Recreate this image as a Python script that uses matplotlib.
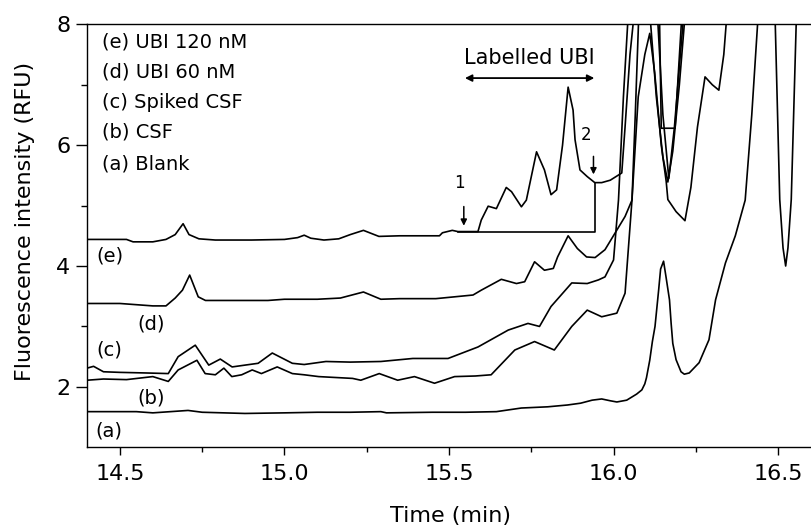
import matplotlib
matplotlib.use("Agg")
import matplotlib.pyplot as plt
from matplotlib.ticker import MultipleLocator

plt.rcParams['font.family'] = ['DejaVu Sans']

# ---- data (time in min, fluorescence in RFU) ----
time_a = [14.40, 14.55, 14.60, 14.707, 14.75, 14.88, 15.00, 15.10, 15.20, 15.293, 15.31,
          15.45, 15.55, 15.644, 15.72, 15.80, 15.86, 15.90, 15.935, 15.964, 15.99, 16.01,
          16.04, 16.07, 16.086, 16.095, 16.10, 16.11, 16.118, 16.126, 16.137, 16.143, 16.152,
          16.16, 16.17, 16.175, 16.18, 16.19, 16.205, 16.215, 16.23, 16.26, 16.29, 16.31,
          16.34, 16.37, 16.40, 16.42, 16.44, 16.46, 16.49, 16.505, 16.515, 16.523, 16.53,
          16.54, 16.556, 16.58, 16.60]
rfu_a = [1.59, 1.59, 1.57, 1.61, 1.58, 1.56, 1.57, 1.58, 1.58, 1.59, 1.57,
         1.58, 1.58, 1.59, 1.65, 1.67, 1.70, 1.73, 1.78, 1.80, 1.77, 1.75,
         1.78, 1.88, 1.95, 2.05, 2.15, 2.44, 2.75, 3.00, 3.60, 3.95, 4.08,
         3.80, 3.44, 3.05, 2.72, 2.45, 2.25, 2.21, 2.23, 2.40, 2.78, 3.44,
         4.05, 4.50, 5.09, 6.50, 8.20, 9.00, 8.30, 5.10, 4.30, 4.00, 4.30,
         5.10, 8.20, 9.00, 9.00]

time_b = [14.40, 14.45, 14.52, 14.60, 14.647, 14.677, 14.734, 14.759, 14.79, 14.816, 14.84,
          14.87, 14.902, 14.93, 14.978, 15.024, 15.06, 15.104, 15.207, 15.232, 15.288, 15.344,
          15.395, 15.456, 15.517, 15.58, 15.628, 15.70, 15.76, 15.82, 15.873, 15.92, 15.964,
          16.01, 16.035, 16.056, 16.075, 16.095, 16.11, 16.125, 16.145, 16.16, 16.165, 16.19,
          16.217, 16.235, 16.255, 16.278, 16.30, 16.32, 16.335, 16.345, 16.36, 16.60]
rfu_b = [2.11, 2.13, 2.12, 2.17, 2.09, 2.28, 2.44, 2.22, 2.20, 2.31, 2.17,
         2.20, 2.28, 2.22, 2.33, 2.22, 2.20, 2.17, 2.14, 2.11, 2.22, 2.11,
         2.17, 2.06, 2.17, 2.18, 2.20, 2.61, 2.75, 2.61, 3.00, 3.27, 3.16,
         3.22, 3.55, 5.09, 6.80, 7.50, 7.85, 7.20, 6.00, 5.40, 5.10, 4.90,
         4.75, 5.30, 6.30, 7.13, 7.00, 6.91, 7.50, 8.20, 9.00, 9.00]

time_c = [14.40, 14.42, 14.45, 14.50, 14.58, 14.647, 14.677, 14.729, 14.77, 14.805, 14.841,
          14.88, 14.92, 14.963, 15.024, 15.06, 15.126, 15.20, 15.293, 15.39, 15.497, 15.588,
          15.68, 15.74, 15.775, 15.81, 15.873, 15.92, 15.954, 15.974, 16.00, 16.015, 16.03,
          16.045, 16.06, 16.10, 16.11, 16.13, 16.15, 16.165, 16.18, 16.20, 16.215, 16.226,
          16.24, 16.60]
rfu_c = [2.31, 2.34, 2.25, 2.24, 2.23, 2.22, 2.50, 2.69, 2.36, 2.46, 2.33,
         2.36, 2.39, 2.56, 2.39, 2.37, 2.42, 2.41, 2.42, 2.47, 2.47, 2.66,
         2.94, 3.05, 3.00, 3.33, 3.72, 3.71, 3.77, 3.82, 4.10, 5.09, 6.80,
         8.20, 9.00, 9.00, 8.20, 6.80, 5.80, 5.39, 5.90, 7.00, 8.00, 8.60,
         9.00, 9.00]

time_d = [14.40, 14.50, 14.60, 14.64, 14.668, 14.69, 14.712, 14.738, 14.76, 14.85, 14.95,
          15.00, 15.10, 15.17, 15.24, 15.293, 15.35, 15.46, 15.573, 15.598, 15.659, 15.705,
          15.73, 15.76, 15.79, 15.817, 15.83, 15.862, 15.89, 15.918, 15.944, 15.974, 16.004,
          16.035, 16.056, 16.066, 16.077, 16.09, 16.12, 16.135, 16.15, 16.168, 16.185, 16.20,
          16.22, 16.23, 16.60]
rfu_d = [3.38, 3.38, 3.34, 3.34, 3.47, 3.60, 3.85, 3.49, 3.43, 3.43, 3.43,
         3.45, 3.45, 3.47, 3.57, 3.45, 3.46, 3.46, 3.52, 3.60, 3.78, 3.71,
         3.74, 4.07, 3.93, 3.96, 4.15, 4.50, 4.29, 4.15, 4.14, 4.27, 4.54,
         4.82, 5.09, 6.50, 8.20, 9.00, 9.00, 8.00, 6.50, 5.45, 6.30, 7.30,
         8.60, 9.00, 9.00]

time_e = [14.40, 14.52, 14.54, 14.60, 14.64, 14.668, 14.692, 14.71, 14.74, 14.79, 14.90,
          15.00, 15.04, 15.06, 15.08, 15.12, 15.165, 15.20, 15.24, 15.287, 15.35, 15.471,
          15.48, 15.51, 15.527, 15.588, 15.598, 15.619, 15.644, 15.674, 15.69, 15.72, 15.735,
          15.766, 15.79, 15.81, 15.827, 15.845, 15.862, 15.877, 15.883, 15.898, 15.92, 15.943,
          15.964, 15.99, 16.025, 16.035, 16.05, 16.065, 16.08, 16.13, 16.14, 16.145, 16.187,
          16.197, 16.207, 16.22, 16.60]
rfu_e = [4.44, 4.44, 4.40, 4.40, 4.44, 4.52, 4.70, 4.52, 4.45, 4.43, 4.43,
         4.44, 4.47, 4.51, 4.46, 4.43, 4.45, 4.52, 4.59, 4.49, 4.50, 4.50,
         4.55, 4.59, 4.57, 4.57, 4.76, 4.99, 4.95, 5.30, 5.23, 4.98, 5.09,
         5.89, 5.59, 5.18, 5.26, 6.00, 6.96, 6.58, 6.09, 5.59, 5.48, 5.38,
         5.38, 5.42, 5.54, 6.30, 7.50, 8.30, 9.00, 9.00, 8.00, 6.28, 6.28,
         7.20, 8.10, 9.00, 9.00]

legend_lines = ["(e) UBI 120 nM", "(d) UBI 60 nM", "(c) Spiked CSF", "(b) CSF", "(a) Blank"]
legend_y = [7.71, 7.21, 6.71, 6.22, 5.69]
trace_labels = ["(e)", "(d)", "(c)", "(b)", "(a)"]
trace_label_x = [14.470, 14.594, 14.467, 14.594, 14.467]
trace_label_y = [4.17, 3.04, 2.61, 1.82, 1.27]

# ---- figure ----
W, H = 811, 530
fig = plt.figure(figsize=(W / 100, H / 100), dpi=100)
ax = fig.add_axes([87 / W, (H - 447.3) / H, (W - 87) / W, (447.3 - 24.3) / H])

lw = 1.2
for t, r in [(time_a, rfu_a), (time_b, rfu_b), (time_c, rfu_c), (time_d, rfu_d), (time_e, rfu_e)]:
    ax.plot(t, r, color='black', lw=lw)

ax.set_xlim(14.4, 16.6)
ax.set_ylim(1, 8)
ax.set_xticks([14.5, 15.0, 15.5, 16.0, 16.5])
ax.set_xticklabels(["14.5", "15.0", "15.5", "16.0", "16.5"])
ax.set_xticks([14.75, 15.25, 15.75, 16.25], minor=True)
ax.set_yticks([2, 4, 6, 8])
ax.set_yticks([3, 5, 7], minor=True)

ax.tick_params(axis='x', which='major', direction='out', length=5.5, width=1, pad=6.5, labelsize=16)
ax.tick_params(axis='x', which='minor', direction='out', length=3.6, width=1)
ax.tick_params(axis='y', which='major', direction='out', length=7.9, width=1, pad=4, labelsize=16)
ax.tick_params(axis='y', which='minor', direction='out', length=4.3, width=1)
ax.spines['right'].set_visible(False)
for s in ['left', 'bottom', 'top']:
    ax.spines[s].set_linewidth(1.0)

# axis labels
fig.text(451 / W, 1 - 516 / H, "Time (min)", ha='center', va='center', fontsize=16)
fig.text(25 / W, 1 - 221.5 / H, "Fluorescence intensity (RFU)", ha='center', va='center',
         rotation=90, fontsize=16)

# legend text
for txt, yy in zip(legend_lines, legend_y):
    ax.text(14.446, yy, txt, ha='left', va='center', fontsize=14)

# trace labels
for txt, xx, yy in zip(trace_labels, trace_label_x, trace_label_y):
    ax.text(xx, yy, txt, ha='center', va='center', fontsize=14)

# annotation: integration window
ax.plot([15.527, 15.943, 15.943], [4.57, 4.57, 5.38], color='black', lw=lw)
ax.annotate("", xy=(15.545, 4.62), xytext=(15.545, 5.03),
            arrowprops=dict(arrowstyle='-|>', color='black', lw=1.1, mutation_scale=9))
ax.text(15.533, 5.37, "1", ha='center', va='center', fontsize=12)
ax.annotate("", xy=(15.939, 5.47), xytext=(15.939, 5.86),
            arrowprops=dict(arrowstyle='-|>', color='black', lw=1.1, mutation_scale=9))
ax.text(15.915, 6.16, "2", ha='center', va='center', fontsize=12)

ax.annotate("", xy=(15.54, 7.11), xytext=(15.95, 7.11),
            arrowprops=dict(arrowstyle='<|-|>', color='black', lw=1.3, mutation_scale=10))
ax.text(15.745, 7.44, "Labelled UBI", ha='center', va='center', fontsize=15)

fig.savefig("out.png", dpi=100)
